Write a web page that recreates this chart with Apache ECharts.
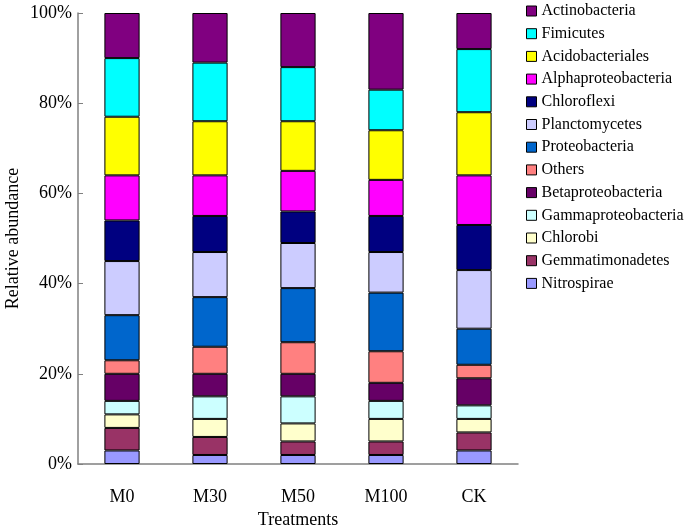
<!DOCTYPE html>
<html>
<head>
<meta charset="utf-8">
<script src="https://cdn.jsdelivr.net/npm/echarts@6/dist/echarts.min.js"></script>
<style>
  html, body { margin: 0; padding: 0; background: #fff; }
  #chart { width: 685px; height: 531px; font-family: 'Liberation Serif', serif; }
</style>
</head>
<body>
<div id="chart"></div>
<script>
var treatments = ['M0', 'M30', 'M50', 'M100', 'CK'];

// stacked from bottom to top
var taxa = ['Nitrospirae', 'Gemmatimonadetes', 'Chlorobi', 'Gammaproteobacteria',
    'Betaproteobacteria', 'Others', 'Proteobacteria', 'Planctomycetes',
    'Chloroflexi', 'Alphaproteobacteria', 'Acidobacteriales', 'Fimicutes', 'Actinobacteria'];

var colors = ['#9999FF', '#993366', '#FFFFCC', '#CCFFFF', '#660066', '#FF8080',
    '#0066CC', '#CCCCFF', '#000080', '#FF00FF', '#FFFF00', '#00FFFF', '#800080'];

// relative abundance (%) per taxon, in treatment order
var nitrospirae = [3, 2, 2, 2, 3];
var gemmatimonadetes = [5, 4, 3, 3, 4];
var chlorobi = [3, 4, 4, 5, 3];
var gammaproteobacteria = [3, 5, 6, 4, 3];
var betaproteobacteria = [6, 5, 5, 4, 6];
var others = [3, 6, 7, 7, 3];
var proteobacteria = [10, 11, 12, 13, 8];
var planctomycetes = [12, 10, 10, 9, 13];
var chloroflexi = [9, 8, 7, 8, 10];
var alphaproteobacteria = [10, 9, 9, 8, 11];
var acidobacteriales = [13, 12, 11, 11, 14];
var fimicutes = [13, 13, 12, 9, 14];
var actinobacteria = [10, 11, 12, 17, 8];

var values = [nitrospirae, gemmatimonadetes, chlorobi, gammaproteobacteria,
    betaproteobacteria, others, proteobacteria, planctomycetes, chloroflexi,
    alphaproteobacteria, acidobacteriales, fimicutes, actinobacteria];

var yTicks = [0, 20, 40, 60, 80, 100];

var font = 'Liberation Serif';

var series = taxa.map(function(name, i) {
    return {
        name: name,
        type: 'bar',
        stack: 'total',
        barWidth: '40%',
        itemStyle: {
            color: colors[i],
            borderColor: '#000',
            borderWidth: 1
        },
        data: values[i]
    };
});

var option = {
    animation: false,
    textStyle: { fontFamily: font, color: '#000' },
    grid: { left: 78, right: 167, top: 13, bottom: 67, outerBoundsMode: 'none', containLabel: false },
    legend: {
        data: taxa.slice().reverse(),
        orient: 'vertical',
        left: 521,
        top: -2,
        itemWidth: 10,
        itemHeight: 10,
        itemGap: 6.7,
        icon: 'rect',
        itemStyle: { borderColor: '#000', borderWidth: 1 },
        textStyle: { fontFamily: font, fontSize: 16, color: '#000', lineHeight: 16 }
    },
    xAxis: {
        type: 'category',
        data: treatments,
        name: 'Treatments',
        nameLocation: 'middle',
        nameGap: 47,
        nameMoveOverlap: false,
        nameTextStyle: { fontFamily: font, fontSize: 18, color: '#000' },
        axisLine: { lineStyle: { color: '#808080', width: 1.5 } },
        axisTick: { inside: true, length: 5, lineStyle: { color: '#808080' } },
        axisLabel: { fontFamily: font, fontSize: 18, color: '#000', margin: 24 }
    },
    yAxis: {
        type: 'value',
        min: yTicks[0],
        max: yTicks[yTicks.length - 1],
        interval: 20,
        name: 'Relative abundance',
        nameLocation: 'middle',
        nameGap: 56,
        nameMoveOverlap: false,
        nameTextStyle: { fontFamily: font, fontSize: 18, color: '#000' },
        axisLine: { show: true, lineStyle: { color: '#808080', width: 1.5 } },
        axisTick: { show: true, inside: true, length: 5, lineStyle: { color: '#808080' } },
        splitLine: { show: false },
        axisLabel: { fontFamily: font, fontSize: 18, color: '#000', margin: 6, formatter: '{value}%' }
    },
    series: series
};

var myChart = echarts.init(document.getElementById('chart'));
myChart.setOption(option);
</script>
</body>
</html>
